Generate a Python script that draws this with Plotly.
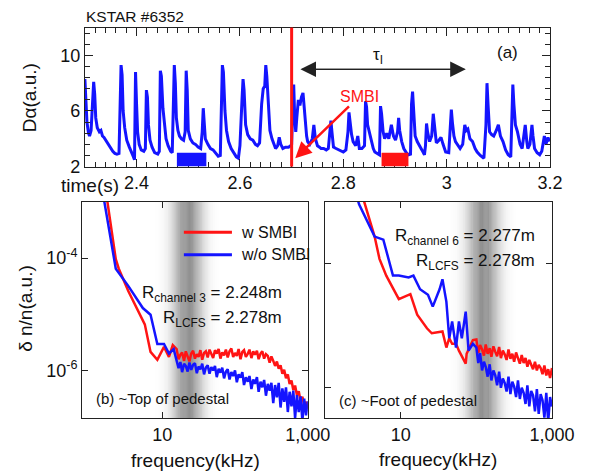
import numpy as np
import plotly.graph_objects as go

W, H = 591, 476
FONT = "Liberation Sans, Arial, sans-serif"
RED = "rgb(255,20,20)"
BLUE = "rgb(20,20,255)"

# ---------------- panel (a): D-alpha time trace ----------------
time_s = [2.300, 2.302, 2.304, 2.307, 2.309, 2.312, 2.315, 2.317, 2.319, 2.321,
          2.324, 2.328, 2.331, 2.334, 2.337, 2.342, 2.346, 2.350, 2.354, 2.358,
          2.362, 2.366, 2.368, 2.370, 2.372, 2.374, 2.377, 2.381, 2.386, 2.390,
          2.394, 2.396, 2.398, 2.400, 2.402, 2.405, 2.409, 2.414, 2.417, 2.419,
          2.421, 2.423, 2.426, 2.430, 2.435, 2.441, 2.444, 2.446, 2.448, 2.451,
          2.454, 2.457, 2.461, 2.466, 2.469, 2.471, 2.473, 2.475, 2.477, 2.480,
          2.483, 2.487, 2.491, 2.494, 2.496, 2.498, 2.500, 2.504, 2.509, 2.514,
          2.519, 2.524, 2.527, 2.529, 2.531, 2.533, 2.538, 2.543, 2.548, 2.553,
          2.558, 2.562, 2.564, 2.566, 2.568, 2.571, 2.574, 2.578, 2.583, 2.588,
          2.593, 2.597, 2.600, 2.604, 2.606, 2.608, 2.611, 2.615, 2.620, 2.625,
          2.630, 2.634, 2.638, 2.642, 2.645, 2.648, 2.650, 2.652, 2.655, 2.658,
          2.662, 2.666, 2.669, 2.673, 2.676, 2.679, 2.683, 2.688, 2.694, 2.698,
          2.700, 2.702, 2.704, 2.706, 2.708, 2.710, 2.713, 2.716, 2.719, 2.722,
          2.724, 2.726, 2.729, 2.731, 2.735, 2.740, 2.743, 2.746, 2.750, 2.754,
          2.757, 2.762, 2.767, 2.771, 2.774, 2.776, 2.778, 2.781, 2.786, 2.791,
          2.796, 2.800, 2.805, 2.809, 2.811, 2.813, 2.816, 2.819, 2.824, 2.828,
          2.831, 2.836, 2.841, 2.843, 2.845, 2.847, 2.850, 2.854, 2.858, 2.861,
          2.866, 2.870, 2.872, 2.874, 2.877, 2.880, 2.884, 2.888, 2.893, 2.897,
          2.901, 2.905, 2.907, 2.909, 2.913, 2.917, 2.922, 2.926, 2.930, 2.932,
          2.934, 2.936, 2.939, 2.943, 2.948, 2.952, 2.957, 2.959, 2.961, 2.963,
          2.967, 2.971, 2.974, 2.976, 2.980, 2.985, 2.989, 2.993, 2.998, 3.004,
          3.007, 3.009, 3.011, 3.014, 3.017, 3.022, 3.026, 3.031, 3.035, 3.038,
          3.041, 3.045, 3.050, 3.055, 3.059, 3.065, 3.072, 3.076, 3.078, 3.080,
          3.083, 3.087, 3.091, 3.096, 3.100, 3.104, 3.109, 3.114, 3.119, 3.124,
          3.126, 3.128, 3.130, 3.133, 3.137, 3.142, 3.146, 3.149, 3.152, 3.155,
          3.157, 3.161, 3.165, 3.167, 3.170, 3.175, 3.180, 3.184, 3.189, 3.192,
          3.194, 3.196, 3.199]
d_alpha = [8.3, 6.5, 5.2, 4.4, 4.2, 4.6, 6.5, 8.1, 7.2, 5.5,
           4.8, 4.5, 4.6, 4.2, 4.1, 3.8, 3.6, 3.3, 3.1, 2.95,
           2.9, 2.95, 7.0, 9.3, 8.6, 6.0, 4.8, 3.9, 3.4, 3.1,
           2.7, 2.5, 8.8, 6.5, 4.5, 3.6, 3.2, 3.1, 3.3, 7.5,
           7.0, 5.0, 3.9, 3.4, 3.0, 2.9, 3.1, 8.9, 8.5, 6.2,
           4.8, 4.0, 3.5, 3.1, 3.0, 7.5, 9.3, 8.0, 5.5, 4.6,
           4.2, 4.0, 3.9, 4.5, 8.9, 7.5, 4.6, 4.0, 3.7, 3.6,
           3.4, 3.3, 4.5, 6.2, 5.0, 4.0, 3.6, 3.3, 3.2, 3.0,
           2.75, 2.8, 7.0, 9.3, 8.8, 6.0, 4.6, 3.8, 3.3, 3.0,
           2.7, 2.6, 3.5, 6.8, 8.3, 7.5, 5.0, 4.3, 4.0, 3.9,
           3.6, 3.5, 3.7, 6.5, 7.6, 7.8, 9.3, 8.5, 6.0, 4.6,
           4.0, 3.6, 3.3, 3.5, 4.1, 3.6, 3.3, 3.4, 3.4, 3.5,
           3.6, 6.0, 7.9, 5.5, 4.5, 5.5, 6.8, 6.4, 7.0, 7.3,
           6.2, 5.2, 4.2, 3.8, 3.6, 4.0, 5.0, 4.0, 3.5, 3.4,
           3.3, 3.3, 3.2, 3.3, 4.5, 5.3, 4.5, 3.4, 3.3, 3.2,
           3.1, 3.05, 3.2, 4.5, 5.9, 5.2, 4.3, 3.8, 3.5, 4.2,
           3.3, 3.3, 3.5, 6.7, 6.3, 5.0, 4.5, 3.8, 3.3, 3.05,
           2.95, 2.85, 6.35, 5.8, 4.5, 4.0, 4.4, 4.0, 5.0, 4.2,
           3.9, 4.5, 5.5, 4.6, 3.8, 3.3, 3.0, 2.85, 2.9, 6.5,
           7.4, 6.0, 4.2, 3.8, 3.5, 3.2, 2.85, 3.5, 5.1, 4.5,
           3.8, 4.2, 5.8, 5.0, 3.7, 3.9, 4.1, 3.6, 3.05, 3.0,
           4.5, 6.1, 5.2, 4.2, 3.8, 3.5, 3.3, 3.6, 5.0, 4.6,
           4.7, 4.0, 3.8, 3.3, 3.05, 2.8, 2.6, 5.0, 8.0, 6.5,
           4.5, 4.3, 4.2, 4.6, 5.0, 4.2, 3.8, 3.2, 2.85, 2.7,
           5.5, 7.9, 6.5, 5.0, 4.5, 3.6, 3.3, 4.0, 5.0, 3.8,
           3.3, 3.6, 5.0, 4.2, 3.3, 3.0, 2.85, 3.1, 4.2, 3.6,
           3.8, 4.1, 3.8]

smbi_time = 2.70
window_wo = [2.478, 2.535]     # w/o SMBI analysis window (blue box)
window_w = [2.874, 2.926]      # w SMBI analysis window (red box)
window_top = 3.0
tau_span = [2.717, 3.037]
tau_level = 9.0

# ---------------- spectra (kHz, log10 of dn/n) ----------------
freq_hi = [15.8, 16.8, 17.8, 18.8, 20.0, 21.1, 22.4, 23.7, 25.1, 26.6,
           28.2, 29.9, 31.6, 33.5, 35.5, 37.6, 39.8, 42.2, 44.7, 47.3,
           50.1, 53.1, 56.2, 59.6, 63.1, 66.8, 70.8, 75.0, 79.4, 84.1,
           89.1, 94.4, 100, 106, 112, 119, 126, 133, 141, 150,
           158, 168, 178, 188, 200, 211, 224, 237, 251, 266,
           282, 299, 316, 335, 355, 376, 398, 422, 447, 473,
           501, 531, 562, 596, 631, 668, 708, 750, 794, 841,
           891, 944, 1000]

# panel (b) ~ top of pedestal
fb_red_lo = [1.55, 1.76, 2.31, 2.54, 3.44, 4.95, 5.78, 6.93, 8.59, 10.6, 12.4, 14.0]
lb_red_lo = [-2.70, -2.97, -4.02, -4.19, -4.59, -5.01, -5.18, -5.67, -5.81, -5.58, -5.76, -5.55]
lb_red_hi = [-5.62, -5.80, -5.72, -5.68, -5.83, -5.66, -5.74, -5.84, -5.70, -5.65,
             -5.79, -5.71, -5.76, -5.64, -5.81, -5.69, -5.66, -5.77, -5.63, -5.72,
             -5.78, -5.64, -5.70, -5.62, -5.79, -5.68, -5.73, -5.63, -5.77, -5.66,
             -5.61, -5.76, -5.69, -5.74, -5.62, -5.80, -5.67, -5.64, -5.76, -5.70,
             -5.63, -5.78, -5.66, -5.72, -5.65, -5.80, -5.70, -5.66, -5.79, -5.71,
             -5.74, -5.86, -5.75, -5.83, -5.92, -5.84, -5.97, -5.91, -6.06, -5.99,
             -6.14, -6.07, -6.24, -6.18, -6.35, -6.27, -6.44, -6.37, -6.55, -6.47,
             -6.62, -6.56, -6.68]
fb_blue_lo = [1.47, 1.60, 2.31, 3.44, 5.43, 6.93, 8.59, 10.6, 12.4, 14.4]
lb_blue_lo = [-2.70, -2.97, -4.19, -4.50, -4.89, -5.01, -5.53, -5.53, -5.70, -5.62]
lb_blue_hi = [-5.80, -5.96, -5.85, -6.03, -5.88, -5.92, -6.02, -5.86, -5.99, -5.90,
              -5.87, -6.05, -5.93, -5.98, -5.88, -6.07, -5.95, -5.91, -6.06, -5.94,
              -6.00, -5.92, -6.12, -5.97, -6.04, -5.95, -6.14, -6.02, -5.98, -6.16,
              -6.03, -6.10, -6.00, -6.21, -6.07, -6.13, -6.03, -6.26, -6.12, -6.20,
              -6.10, -6.33, -6.16, -6.24, -6.12, -6.38, -6.20, -6.30, -6.17, -6.45,
              -6.24, -6.36, -6.22, -6.58, -6.26, -6.48, -6.22, -6.66, -6.32, -6.56,
              -6.30, -6.74, -6.38, -6.64, -6.36, -6.85, -6.44, -6.74, -6.46, -6.90,
              -6.50, -6.80, -6.55]

# panel (c) ~ foot of pedestal
fc_red_lo = [3.07, 3.36, 4.51, 5.23, 6.43, 9.43, 13.4, 16.5, 22.2, 25.7, 32.6, 35.6,
             40.1, 43.8, 47.8, 53.8, 58.8, 72.3, 74.4, 90.0]
lc_red_lo = [-2.88, -3.04, -3.56, -3.92, -4.19, -4.57, -4.49, -4.82, -5.04, -5.12, -5.09, -5.09,
             -5.35, -5.20, -5.29, -5.29, -5.40, -5.61, -5.45, -5.23]
lc_red_hi = [-5.22, -5.44, -5.31, -5.38, -5.48, -5.30, -5.45, -5.36, -5.50, -5.33,
             -5.42, -5.49, -5.34, -5.52, -5.40, -5.46, -5.55, -5.38, -5.53, -5.45,
             -5.58, -5.43, -5.52, -5.61, -5.47, -5.60, -5.52, -5.66, -5.55, -5.62,
             -5.70, -5.58, -5.72, -5.63, -5.68, -5.78, -5.64, -5.80, -5.70, -5.84, -5.68]
fc_blue_lo = [2.57, 2.81, 4.51, 5.88, 7.89, 9.43, 12.7, 14.7, 18.0, 20.9, 22.9, 26.5,
              28.1, 29.8, 32.6, 35.6, 40.1, 43.8, 47.8, 53.8, 58.8, 64.2, 72.3, 78.9, 90.0]
lc_blue_lo = [-2.88, -3.04, -3.56, -3.61, -4.19, -4.19, -4.22, -4.19, -4.41, -4.46, -4.50, -4.69,
              -4.61, -4.50, -4.41, -4.25, -4.61, -5.20, -4.93, -5.35, -4.93, -5.20, -4.77, -5.40, -5.29]
lc_blue_hi = [-5.35, -5.60, -5.44, -5.72, -5.58, -5.66, -5.82, -5.62, -5.88, -5.72,
              -5.80, -5.96, -5.74, -6.00, -5.85, -5.92, -6.06, -5.82, -6.10, -5.90,
              -5.98, -6.15, -5.88, -6.18, -6.00, -6.08, -6.26, -5.96, -6.30, -6.05,
              -6.12, -6.38, -6.02, -6.42, -6.10, -6.20, -6.48, -6.08, -6.55, -6.15, -6.30]

band_b_center, band_c_center = 1.35, 2.09   # log10(kHz) of shaded bands

freq_hi_c = freq_hi[32:]

def pw(v):
    return list(10 ** np.array(v))

fig = go.Figure()

fig.add_trace(go.Scatter(x=time_s, y=d_alpha, mode="lines", xaxis="x", yaxis="y",
                         line=dict(color=BLUE, width=3), showlegend=False))

fig.add_trace(go.Scatter(x=fb_red_lo + freq_hi, y=pw(lb_red_lo + lb_red_hi), mode="lines",
                         xaxis="x2", yaxis="y2", line=dict(color=RED, width=2.5), showlegend=False))
fig.add_trace(go.Scatter(x=fb_blue_lo + freq_hi, y=pw(lb_blue_lo + lb_blue_hi), mode="lines",
                         xaxis="x2", yaxis="y2", line=dict(color=BLUE, width=2.5), showlegend=False))
fig.add_trace(go.Scatter(x=fc_red_lo + freq_hi_c, y=pw(lc_red_lo + lc_red_hi), mode="lines",
                         xaxis="x3", yaxis="y3", line=dict(color=RED, width=2.5), showlegend=False))
fig.add_trace(go.Scatter(x=fc_blue_lo + freq_hi_c, y=pw(lc_blue_lo + lc_blue_hi), mode="lines",
                         xaxis="x3", yaxis="y3", line=dict(color=BLUE, width=2.5), showlegend=False))

def px(x):
    return x / W

def py(y):
    return 1 - y / H

dom_ax = [px(80), px(564)]
dom_ay = [py(162), py(20)]
dom_bx = [px(77), px(312)]
dom_cx = [px(330), px(566)]
dom_by = [py(419), py(198)]

axis_common = dict(showline=True, linecolor="#222", linewidth=1, mirror="ticks",
                   ticks="inside", showgrid=False, zeroline=False,
                   tickfont=dict(family=FONT, size=18, color="#111"), tickcolor="#222")

fig.update_layout(
    width=W, height=H, margin=dict(l=0, r=0, t=0, b=0),
    paper_bgcolor="white", plot_bgcolor="white",
    font=dict(family=FONT, color="#111"),
    xaxis=dict(domain=dom_ax, anchor="y", range=[2.3, 3.2],
               tickvals=[2.4, 2.6, 2.8, 3.0, 3.2], ticktext=["2.4", "2.6", "2.8", "3", "3.2"],
               ticklen=8, minor=dict(dtick=0.02, tick0=2.3, ticklen=5, ticks="inside", tickcolor="#222"),
               **axis_common),
    yaxis=dict(domain=dom_ay, anchor="x", range=[2, 12], tickvals=[2, 6, 10],
               ticklen=8, minor=dict(dtick=0.8, tick0=2, ticklen=5, ticks="inside", tickcolor="#222"),
               **axis_common),
    xaxis2=dict(domain=dom_bx, anchor="y2", type="log", range=[-0.1, 3],
                tickvals=[10, 1000], ticktext=["10", "1,000"], ticklen=6, **axis_common),
    yaxis2=dict(domain=dom_by, anchor="x2", type="log", range=[-6.85, -3.0],
                tickvals=[1e-4, 1e-6], ticktext=["10<sup>-4</sup>", "10<sup>-6</sup>"],
                ticklen=6, **axis_common),
    xaxis3=dict(domain=dom_cx, anchor="y3", type="log", range=[0, 3],
                tickvals=[10, 1000], ticktext=["10", "1,000"], ticklen=6, **axis_common),
    yaxis3=dict(domain=dom_by, anchor="x3", type="log", range=[-6.49, -3.0],
                tickvals=[1e-4, 1e-6], showticklabels=False, ticklen=6, **axis_common),
)

shapes = []
# shaded gray bands (gradient made of thin strips)
def band(xref, yref, center, sigma=0.14, half=0.45, n=60):
    edges = np.linspace(center - half, center + half, n + 1)
    for i in range(n):
        mid = 0.5 * (edges[i] + edges[i + 1])
        a = 0.7 * np.exp(-0.5 * ((mid - center) / sigma) ** 2)
        shapes.append(dict(type="rect", xref=xref, yref=yref + " domain", layer="below",
                           x0=10 ** edges[i], x1=10 ** (edges[i + 1] + 0.002), y0=0, y1=1,
                           fillcolor=f"rgba(100,100,100,{a:.3f})", line=dict(width=0)))

band("x2", "y2", band_b_center)
band("x3", "y3", band_c_center)

# SMBI timing line and analysis windows
shapes.append(dict(type="line", xref="x", yref="y domain", x0=smbi_time, x1=smbi_time, y0=0, y1=1,
                   line=dict(color=RED, width=3)))
shapes.append(dict(type="rect", xref="x", yref="y", x0=window_wo[0], x1=window_wo[1], y0=2, y1=window_top,
                   fillcolor=BLUE, line=dict(width=0)))
shapes.append(dict(type="rect", xref="x", yref="y", x0=window_w[0], x1=window_w[1], y0=2, y1=window_top,
                   fillcolor=RED, line=dict(width=0)))

# legend lines in panel (b)
shapes.append(dict(type="line", xref="paper", yref="paper", x0=px(183), x1=px(233), y0=py(229), y1=py(229),
                   line=dict(color=RED, width=3)))
shapes.append(dict(type="line", xref="paper", yref="paper", x0=px(183), x1=px(233), y0=py(252), y1=py(252),
                   line=dict(color=BLUE, width=3)))

ann = []
def text(x, y, s, size=16, color="#111", xanchor="left", yanchor="middle", angle=0):
    ann.append(dict(x=px(x), y=py(y), xref="paper", yref="paper", text=s, showarrow=False,
                    xanchor=xanchor, yanchor=yanchor, textangle=angle,
                    font=dict(family=FONT, size=size, color=color)))

text(79, 9, "KSTAR #6352", size=15.5)
text(520, 45, "(a)", size=17, xanchor="center")
text(53, 181, "time(s)", size=19)
text(22, 92, "Dα(a.u.)", size=19, xanchor="center", angle=-90)
text(18, 307, "δ n/n(a.u.)", size=19, xanchor="center", angle=-90)
text(195, 462, "frequency(kHz)", size=19, xanchor="center")
text(447, 461, "frequecy(kHz)", size=19, xanchor="center")
text(240, 229, "w SMBI", size=16)
text(240, 252, "w/o SMBI", size=16)
text(287, 292, "R<sub>channel 3</sub> = 2.248m", size=17, xanchor="right")
text(287, 318, "R<sub>LCFS</sub> = 2.278m", size=17, xanchor="right")
text(89, 399, "(b) ~Top of pedestal", size=15)
text(550, 234, "R<sub>channel 6</sub> = 2.277m", size=17, xanchor="right")
text(550, 259, "R<sub>LCFS</sub> = 2.278m", size=17, xanchor="right")
text(342, 401, "(c) ~Foot of pedestal", size=15)

# tau_I double arrow
for a, b in [(tau_span[0], tau_span[1]), (tau_span[1], tau_span[0])]:
    ann.append(dict(x=a, y=tau_level, ax=b, ay=tau_level, xref="x", yref="y", axref="x", ayref="y",
                    text="", showarrow=True, arrowhead=2, arrowsize=2.6, arrowwidth=1.2,
                    arrowcolor="#222", standoff=0, startstandoff=0))
ann.append(dict(x=2.868, y=9.95, xref="x", yref="y", text="τ<sub>I</sub>", showarrow=False,
                font=dict(family=FONT, size=17, color="#111")))
# SMBI arrow
ann.append(dict(x=2.707, y=2.6, ax=2.831, ay=7.05, xref="x", yref="y", axref="x", ayref="y",
                text="SMBI", showarrow=True, arrowhead=2, arrowsize=1.3, arrowwidth=2.5,
                arrowcolor=RED, font=dict(family=FONT, size=16, color=RED)))

fig.update_layout(shapes=shapes, annotations=ann)
fig.write_html("out.html")
